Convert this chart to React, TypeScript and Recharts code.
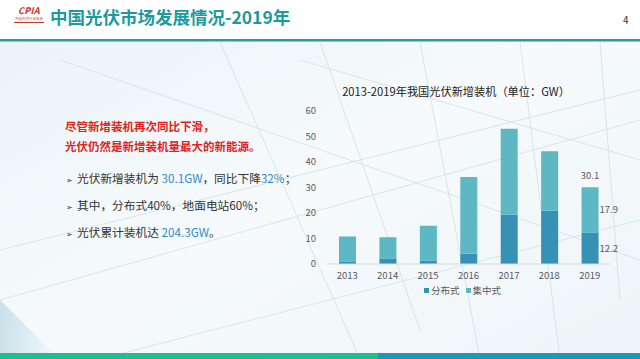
import React from "react";
import { BarChart, Bar, XAxis, YAxis, LabelList } from "recharts";

const years = ["2013", "2014", "2015", "2016", "2017", "2018", "2019"];
const distributed = [0.8, 2.0, 1.4, 4.1, 19.4, 20.9, 12.2];
const centralized = [10.0, 8.5, 13.6, 30.0, 33.6, 23.3, 17.9];
const totalLabels = ["", "", "", "", "", "", "30.1"];
const distLabels = ["", "", "", "", "", "", "12.2"];
const centLabels = ["", "", "", "", "", "", "17.9"];
const yTicks = [0, 10, 20, 30, 40, 50, 60];

const data = years.map((y, i) => ({
  year: y,
  dist: distributed[i],
  cent: centralized[i],
  totalLabel: totalLabels[i],
  distLabel: distLabels[i],
  centLabel: centLabels[i],
}));

const DARK = "#3592B5";
const LIGHT = "#5DB8C3";
const FONT = '"Noto Sans CJK SC", "Noto Sans", sans-serif';

const Background = () => (
  <svg width={640} height={359} style={{ position: "absolute", left: 0, top: 0 }}>
    <defs>
      <linearGradient id="bg" x1="0" y1="0" x2="1" y2="1">
        <stop offset="0" stopColor="#eaf3f7" />
        <stop offset="0.5" stopColor="#f6fafc" />
        <stop offset="1" stopColor="#eef5f8" />
      </linearGradient>
      <linearGradient id="bl" x1="0" y1="0" x2="1" y2="0">
        <stop offset="0" stopColor="#b9d6e3" stopOpacity="0.9" />
        <stop offset="1" stopColor="#b9d6e3" stopOpacity="0" />
      </linearGradient>
    </defs>
    <rect x={0} y={0} width={640} height={359} fill="url(#bg)" />
    <polygon points="0,300 60,359 0,359" fill="url(#bl)" opacity={0.8} />
    <g stroke="#cfe2ea" strokeWidth={1} fill="none" opacity={0.8}>
      <line x1={220} y1={42} x2={360} y2={359} />
      <line x1={320} y1={42} x2={420} y2={330} />
      <line x1={420} y1={42} x2={480} y2={359} />
      <line x1={520} y1={42} x2={560} y2={359} />
      <line x1={600} y1={42} x2={620} y2={300} />
      <line x1={0} y1={300} x2={640} y2={120} />
      <line x1={0} y1={250} x2={640} y2={90} />
      <line x1={100} y1={359} x2={640} y2={220} />
      <line x1={300} y1={60} x2={640} y2={160} />
      <line x1={60} y1={60} x2={640} y2={260} />
    </g>
    <rect x={0} y={0} width={640} height={39} fill="#ffffff" />
    <rect x={0} y={39} width={640} height={2.5} fill="#2a9aa5" />
    <rect x={0} y={353} width={378} height={6} fill="#1dbf8e" />
    <rect x={378} y={353} width={262} height={6} fill="#1e98b8" />
  </svg>
);

export default function App() {
  return (
    <div style={{ position: "absolute", left: 0, top: 0, width: 640, height: 359, overflow: "hidden", fontFamily: FONT }}>
      <Background />
      {/* Header */}
      <div style={{ position: "absolute", left: 14, top: 6, width: 30, textAlign: "center" }}>
        <div style={{ color: "#d9261c", fontWeight: 700, fontSize: 9, lineHeight: "10px", fontStyle: "italic", letterSpacing: 0.3 }}>CPIA</div>
        <div style={{ color: "#c0392b", fontSize: 3.5, lineHeight: "5px", whiteSpace: "nowrap" }}>中国光伏行业协会</div>
        <div style={{ height: 1, background: "#c0392b", marginTop: 1 }} />
      </div>
      <div style={{ position: "absolute", left: 50, top: 5, fontSize: 17.5, fontWeight: 700, color: "#1c9aa0", whiteSpace: "nowrap", lineHeight: "24px" }}>
        中国光伏市场发展情况-2019年
      </div>
      <div style={{ position: "absolute", left: 623, top: 12, fontSize: 10, color: "#333" }}>4</div>

      {/* Left text */}
      <div style={{ position: "absolute", left: 65, top: 116, fontSize: 11.5, fontWeight: 700, color: "#e0231d", lineHeight: "20px", whiteSpace: "nowrap" }}>
        <div>尽管新增装机再次同比下滑，</div>
        <div>光伏仍然是新增装机量最大的新能源。</div>
      </div>
      <div style={{ position: "absolute", left: 66, top: 169, fontSize: 11.7, color: "#333", whiteSpace: "nowrap" }}>
        <div style={{ height: 27 }}>
          <span style={{ fontSize: 8, marginRight: 4 }}>➢</span>光伏新增装机为 <span style={{ color: "#2e8fc6" }}>30.1GW</span>，同比下降<span style={{ color: "#2e8fc6" }}>32%</span>；
        </div>
        <div style={{ height: 27 }}>
          <span style={{ fontSize: 8, marginRight: 4 }}>➢</span>其中，分布式40%，地面电站60%；
        </div>
        <div style={{ height: 27 }}>
          <span style={{ fontSize: 8, marginRight: 4 }}>➢</span>光伏累计装机达 <span style={{ color: "#2e8fc6" }}>204.3GW</span>。
        </div>
      </div>

      {/* Chart title */}
      <div style={{ position: "absolute", left: 306, top: 83, width: 300, textAlign: "center", fontSize: 11.2, color: "#222", whiteSpace: "nowrap" }}>
        2013-2019年我国光伏新增装机（单位：GW）
      </div>

      {/* Chart */}
      <div style={{ position: "absolute", left: 290, top: 80 }}>
        <BarChart
          width={340}
          height={204}
          data={data}
          margin={{ top: 31, right: 20, bottom: 0, left: 0 }}
          barSize={17}
        >
          <XAxis
            dataKey="year"
            tickLine={false}
            axisLine={{ stroke: "#d9d9d9" }}
            height={20}
            tick={{ fontSize: 9.5, fill: "#595959", fontFamily: FONT }}
            tickMargin={2}
          />
          <YAxis
            width={37}
            domain={[0, 60]}
            ticks={yTicks}
            tickLine={false}
            axisLine={false}
            tickMargin={5}
            tick={{ fontSize: 9.5, fill: "#595959", fontFamily: FONT }}
          />
          <Bar dataKey="dist" stackId="a" fill={DARK} isAnimationActive={false}>
            <LabelList dataKey="distLabel" position="right" offset={1} style={{ fontSize: 9.5, fill: "#595959", fontFamily: FONT }} />
          </Bar>
          <Bar dataKey="cent" stackId="a" fill={LIGHT} isAnimationActive={false}>
            <LabelList dataKey="centLabel" position="right" offset={1} style={{ fontSize: 9.5, fill: "#595959", fontFamily: FONT }} />
            <LabelList dataKey="totalLabel" position="top" offset={8} style={{ fontSize: 9.5, fill: "#595959", fontFamily: FONT }} />
          </Bar>
        </BarChart>
      </div>

      {/* Legend */}
      <div style={{ position: "absolute", left: 424, top: 283, fontSize: 9.5, color: "#595959", whiteSpace: "nowrap", display: "flex", alignItems: "center" }}>
        <span style={{ display: "inline-block", width: 5, height: 5, background: DARK, marginRight: 2 }} />
        <span style={{ marginRight: 6 }}>分布式</span>
        <span style={{ display: "inline-block", width: 5, height: 5, background: LIGHT, marginRight: 2 }} />
        <span>集中式</span>
      </div>
    </div>
  );
}
